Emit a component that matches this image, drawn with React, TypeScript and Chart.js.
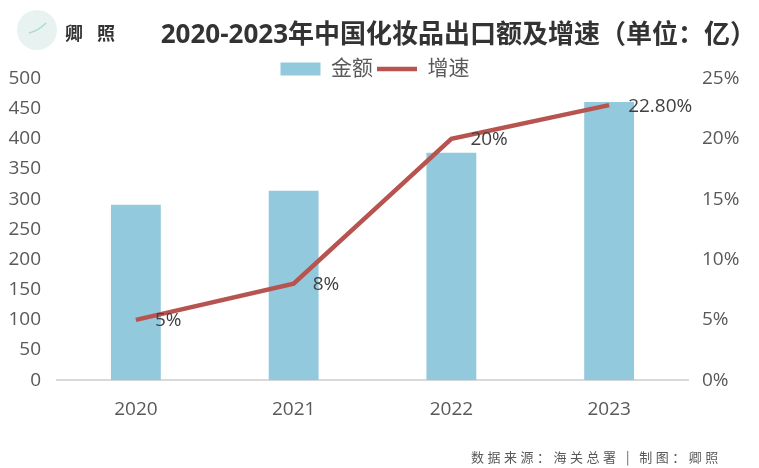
import React, { useEffect, useRef } from "react";
import { Chart, registerables } from "chart.js";

Chart.register(...registerables);

const categories = ["2020", "2021", "2022", "2023"];
const amounts = [291, 314, 377, 461];
const growth = [5, 8, 20, 22.8];
const growthLabels = ["5%", "8%", "20%", "22.80%"];
const titleText = "2020-2023年中国化妆品出口额及增速（单位：亿）";
const brandChars = ["卿", "照"];
const sourceText = "数据来源：海关总署 | 制图：卿照";

const FONT = "'Open Sans','Noto Sans CJK SC',sans-serif";

const extras = {
  id: "extras",
  beforeLayout(chart: any) {
    const legend = chart.legend;
    if (legend && !legend.__patched) {
      const fit = legend.fit;
      legend.fit = function () {
        fit.call(this);
        this.height -= 11;
      };
      legend.__patched = true;
    }
  },
  afterLayout(chart: any) {
    if (chart.titleBlock) chart.titleBlock.right += 11;
  },
  afterDatasetsDraw(chart: any) {
    const { ctx, scales } = chart;
    ctx.save();
    ctx.textBaseline = "middle";
    ctx.textAlign = "left";
    ctx.font = `19px ${FONT}`;
    ctx.fillStyle = "#404040";
    growth.forEach((v, i) => {
      ctx.fillText(growthLabels[i], scales.x.getPixelForValue(i) + 19, scales.y1.getPixelForValue(v) + 1);
    });
    ctx.restore();
  },
  afterDraw(chart: any) {
    const { ctx } = chart;
    ctx.save();
    // logo
    ctx.fillStyle = "#e8f3f1";
    ctx.beginPath();
    ctx.arc(37, 30, 20, 0, Math.PI * 2);
    ctx.fill();
    ctx.strokeStyle = "#a8dcd0";
    ctx.lineWidth = 1.5;
    ctx.beginPath();
    ctx.moveTo(29, 33);
    ctx.quadraticCurveTo(38, 31, 46, 23);
    ctx.stroke();
    // brand
    ctx.fillStyle = "#333333";
    ctx.textBaseline = "middle";
    ctx.textAlign = "left";
    ctx.font = `bold 18px 'Noto Sans CJK SC',sans-serif`;
    ctx.fillText(brandChars[0], 65, 33);
    ctx.fillText(brandChars[1], 97, 33);
    // source
    ctx.fillStyle = "#595959";
    ctx.font = `13px 'Noto Sans CJK SC',sans-serif`;
    (ctx as any).letterSpacing = "3.5px";
    ctx.fillText(sourceText, 471, 457);
    ctx.restore();
  },
};

export default function App() {
  const ref = useRef<HTMLCanvasElement>(null);
  useEffect(() => {
    const chart = new Chart(ref.current!, {
      type: "bar",
      data: {
        labels: categories,
        datasets: [
          {
            type: "line",
            label: "增速",
            data: growth,
            yAxisID: "y1",
            borderColor: "#b85450",
            backgroundColor: "#b85450",
            borderWidth: 4.5,
            pointRadius: 0,
            tension: 0,
            order: 1,
            pointStyle: "line",
          },
          {
            type: "bar",
            label: "金额",
            data: amounts,
            yAxisID: "y",
            backgroundColor: "#92c9dc",
            barPercentage: 0.316,
            categoryPercentage: 1,
            order: 2,
            pointStyle: "rect",
          },
        ],
      },
      options: {
        responsive: false,
        animation: false,
        devicePixelRatio: 1,
        layout: { padding: { left: 5, right: 14, top: 0, bottom: 37 } },
        plugins: {
          tooltip: { enabled: false },
          title: {
            display: true,
            text: titleText,
            align: "end",
            color: "#333333",
            font: { family: FONT, size: 26, weight: "bold", lineHeight: 1.1 },
            padding: { top: 21, bottom: 5 },
          },
          legend: {
            display: true,
            position: "top",
            reverse: true,
            labels: {
              usePointStyle: true,
              pointStyleWidth: 40,
              boxHeight: 13,
              color: "#595959",
              font: { family: FONT, size: 21 },
              padding: 4,
            },
          },
        },
        scales: {
          x: {
            grid: { display: false },
            border: { color: "#d9d9d9", width: 2 },
            ticks: { color: "#595959", font: { family: FONT, size: 19 }, padding: 10, maxRotation: 0 },
          },
          y: {
            position: "left",
            min: 0,
            max: 500,
            afterFit: (s: any) => { s.width = 52; },
            grid: { display: false, drawTicks: false },
            border: { display: false },
            ticks: { stepSize: 50, color: "#595959", font: { family: FONT, size: 19 }, padding: 16 },
          },
          y1: {
            position: "right",
            min: 0,
            max: 25,
            afterFit: (s: any) => { s.width = 57; },
            grid: { display: false, drawTicks: false },
            border: { display: false },
            ticks: { stepSize: 5, color: "#595959", font: { family: FONT, size: 19 }, padding: 14, callback: (v: any) => `${v}%` },
          },
        },
      } as any,
      plugins: [extras],
    });
    return () => chart.destroy();
  }, []);
  return (
    <canvas
      ref={ref}
      width={759}
      height={468}
      style={{ position: "fixed", left: 0, top: 0, width: 759, height: 468, background: "#ffffff" }}
    />
  );
}
